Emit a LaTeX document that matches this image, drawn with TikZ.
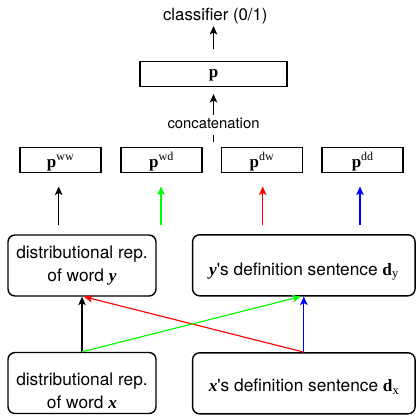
\documentclass[tikz,border=0pt]{standalone}
\usepackage{fontspec}
\setmainfont{TeX Gyre Heros}
\newfontfamily\tms{Liberation Serif}
\usetikzlibrary{arrows.meta}
\definecolor{lred}{RGB}{255,0,0}
\definecolor{lgreen}{RGB}{0,255,0}
\definecolor{lblue}{RGB}{0,0,255}
\newcommand{\bfp}{{\tms\bfseries p}}
\newcommand{\supx}[1]{\raisebox{6.5pt}{\fontsize{12}{12}\selectfont\tms #1}}
\newcommand{\subx}[1]{\raisebox{-2.5pt}{\fontsize{12.5}{12.5}\selectfont\tms #1}}
\newcommand{\bivar}[1]{{\tms\bfseries\itshape #1}}
\newcommand{\bfd}{{\tms\bfseries d}}
\begin{document}
\begin{tikzpicture}[x=1pt,y=-1pt,
  sqbox/.style={draw, line width=1.4pt, inner sep=0pt, minimum height=25pt,
    font=\fontsize{17}{20}\selectfont},
  rbox/.style={draw, line width=1.4pt, rounded corners=7pt, inner sep=0pt,
    minimum height=61pt, font=\fontsize{17.3}{23}\selectfont},
  arr/.style={line width=1.15pt, -{Stealth[length=8.5pt,width=7.5pt,inset=2pt]}},
  lbl/.style={inner sep=0pt}
]
\useasboundingbox (0,0) rectangle (419,416);

% top
\node[lbl, anchor=base, font=\fontsize{16.8}{18}\selectfont] (cls) at (215.3,20.7) {classifier (0/1)};
\node[sqbox, minimum width=147pt, text height=11pt, text depth=3.7pt] (p) at (213.5,74.2) {\bfp};
\node[lbl, anchor=base, font=\fontsize{14.8}{16}\selectfont, text height=10pt, text depth=0pt] (cat) at (213.5,128.3) {concatenation};

% pww row
\node[sqbox, minimum width=81pt, text height=18pt, text depth=3.4pt] (w1) at (60.3,159.8) {\bfp\supx{ww}};
\node[sqbox, minimum width=81pt, text height=18pt, text depth=3.4pt] (w2) at (161.3,159.8) {\bfp\supx{wd}};
\node[sqbox, minimum width=81pt, text height=18pt, text depth=3.4pt] (w3) at (261.8,159.8) {\bfp\supx{dw}};
\node[sqbox, minimum width=81pt, text height=18pt, text depth=3.4pt] (w4) at (362.5,159.8) {\bfp\supx{dd}};

% big boxes
\node[rbox, minimum width=148pt] (tl) at (82,265.5)
  {\begin{tabular}[t]{@{}c@{}}distributional rep.\\ of word \bivar{y}\end{tabular}};
\node[rbox, minimum width=222.5pt, text height=22pt, text depth=2.4pt] (tr) at (303.8,265.3)
  {\bivar{y}\textquotesingle s definition sentence \bfd\subx{y}};
\node[rbox, minimum width=148pt, text height=25pt, text depth=21pt] (bl) at (82,383)
  {\begin{tabular}[t]{@{}c@{}}distributional rep.\\ of word \bivar{x}\end{tabular}};
\node[rbox, minimum width=222.5pt, text height=20pt, text depth=3.6pt] (br) at (303.8,383.3)
  {\bivar{x}\textquotesingle s definition sentence \bfd\subx{x}};

% arrows top
\draw[arr] ([yshift=11.7pt]p.north) -- ([yshift=-5.3pt]cls.base -| p.north);
\draw[arr] ([yshift=3.3pt]cat.north) -- ([yshift=-6.6pt]p.south);
\draw[line width=1.15pt] ([yshift=-6.7pt]cat.south) -- ([yshift=-13.7pt]cat.south);

% coloured arrows into p-boxes
\coordinate (g1) at (58.7,225);
\coordinate (g2) at (161,225);
\coordinate (g3) at (262.7,225);
\coordinate (g4) at (360,225);
\draw[arr, shorten >=13.5pt] (g1) -- (g1 |- w1.south);
\draw[arr, lgreen, shorten >=13.5pt] (g2) -- (g2 |- w2.south);
\draw[arr, lred, shorten >=13.5pt] (g3) -- (g3 |- w3.south);
\draw[arr, lblue, shorten >=13.5pt] (g4) -- (g4 |- w4.south);

% bottom crossing arrows
\draw[arr] (bl.north) -- (tl.south);
\draw[arr, lred] (br.north) -- ([xshift=2pt]tl.south);
\draw[arr, lgreen] (bl.north) -- ([xshift=-3pt]tr.south);
\draw[arr, lblue] (br.north) -- (tr.south);
\end{tikzpicture}
\end{document}
